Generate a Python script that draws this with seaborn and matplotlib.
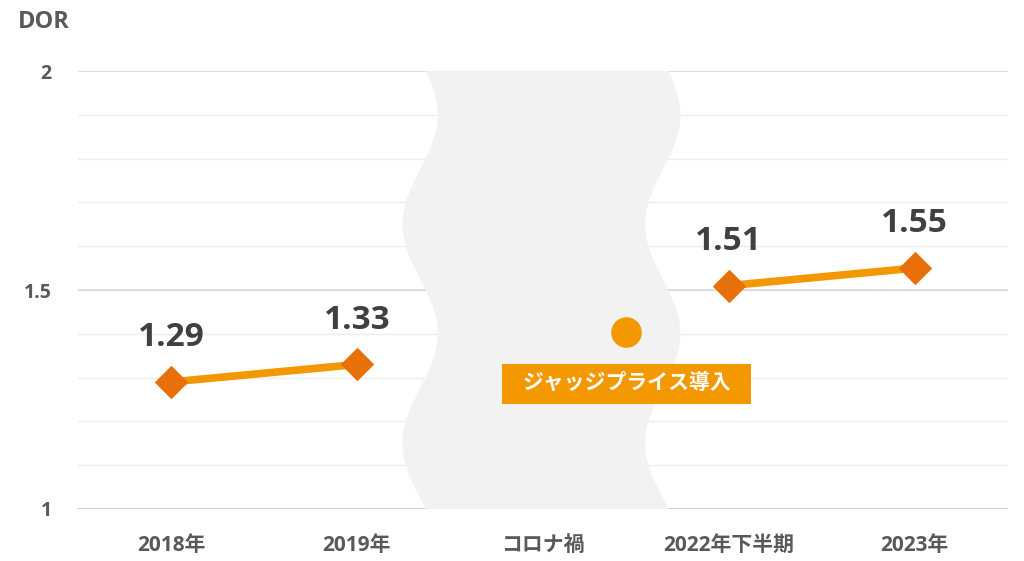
import numpy as np
import pandas as pd
import matplotlib
matplotlib.use("Agg")
import matplotlib.pyplot as plt
from matplotlib.patches import Polygon, Rectangle
import seaborn as sns

# データ
categories = ["2018年", "2019年", "コロナ禍", "2022年下半期", "2023年"]
dor_values = [1.29, 1.33, np.nan, 1.51, 1.55]
segments = [0, 0, -1, 1, 1]
note_text = "ジャッジプライス導入"
note_pos = 2.45
note_value = 1.405
y_ticks = [1, 1.5, 2]
y_tick_labels = ["1", "1.5", "2"]

df = pd.DataFrame({"pos": range(len(categories)), "dor": dor_values, "seg": segments})
df = df.dropna()

sns.set_theme(style="white")
plt.rcParams["font.family"] = ["Open Sans", "Noto Sans CJK JP", "DejaVu Sans"]

fig = plt.figure(figsize=(10.24, 5.61), dpi=100)
ax = fig.add_axes([0.0762, 0.0927, 0.9078, 0.7807])

ax.set_xlim(-0.5, len(categories) - 0.5)
ax.set_ylim(1, 2)

# グリッド
for v in np.arange(1.1, 2.0, 0.1):
    ax.axhline(v, color="#EDEDED", lw=1, zorder=0)
for v in [1.5, 2.0]:
    ax.axhline(v, color="#D9D9D9", lw=1.2, zorder=0)
ax.axhline(1.0, color="#D0D0D0", lw=1.5, zorder=0)

# コロナ禍の波形帯
vv = np.linspace(1, 2, 200)
left = 1.34 + 0.095 * np.cos(2 * np.pi * (vv - 1.9) / 0.5)
right = left + 1.305
poly = np.vstack([np.column_stack([left, vv]), np.column_stack([right[::-1], vv[::-1]])])
ax.add_patch(Polygon(poly, closed=True, facecolor="#F2F2F2", edgecolor="none", zorder=1))

# 折れ線
sns.lineplot(data=df, x="pos", y="dor", units="seg", estimator=None, ax=ax,
             color="#F39800", lw=5.5, marker="D", markersize=16,
             markerfacecolor="#E8700A", markeredgecolor="#E8700A", zorder=3, legend=False)

for x, v in zip(df["pos"], df["dor"]):
    ax.annotate(f"{v:.2f}", (x, v), xytext=(0, 20), textcoords="offset points",
                ha="center", va="bottom", fontsize=24, fontweight="bold", color="#404040")

# ジャッジプライス導入
ax.plot([note_pos], [note_value], "o", color="#F39800", markersize=21, zorder=4)
ax.add_patch(Rectangle((note_pos - 0.67, note_value - 0.165), 1.34, 0.092,
                       facecolor="#F39800", edgecolor="none", zorder=4))
ax.text(note_pos, note_value - 0.119, note_text, ha="center", va="center",
        fontsize=15, fontweight="bold", color="white", zorder=5)

ax.set_xticks(range(len(categories)))
ax.set_xticklabels(categories, fontsize=15, fontweight="bold", color="#595959")
ax.set_yticks(y_ticks)
ax.set_yticklabels(y_tick_labels, fontsize=14, fontweight="bold", color="#595959")
ax.tick_params(axis="x", length=0, pad=19)
ax.tick_params(axis="y", length=0, pad=19)
ax.set_xlabel("")
ax.set_ylabel("")
for s in ax.spines.values():
    s.set_visible(False)

fig.text(18 / 1024, 1 - 22 / 561, "DOR", ha="left", va="center", fontsize=17,
         fontweight="bold", color="#595959")

fig.savefig("out.png", dpi=100, facecolor="white")
